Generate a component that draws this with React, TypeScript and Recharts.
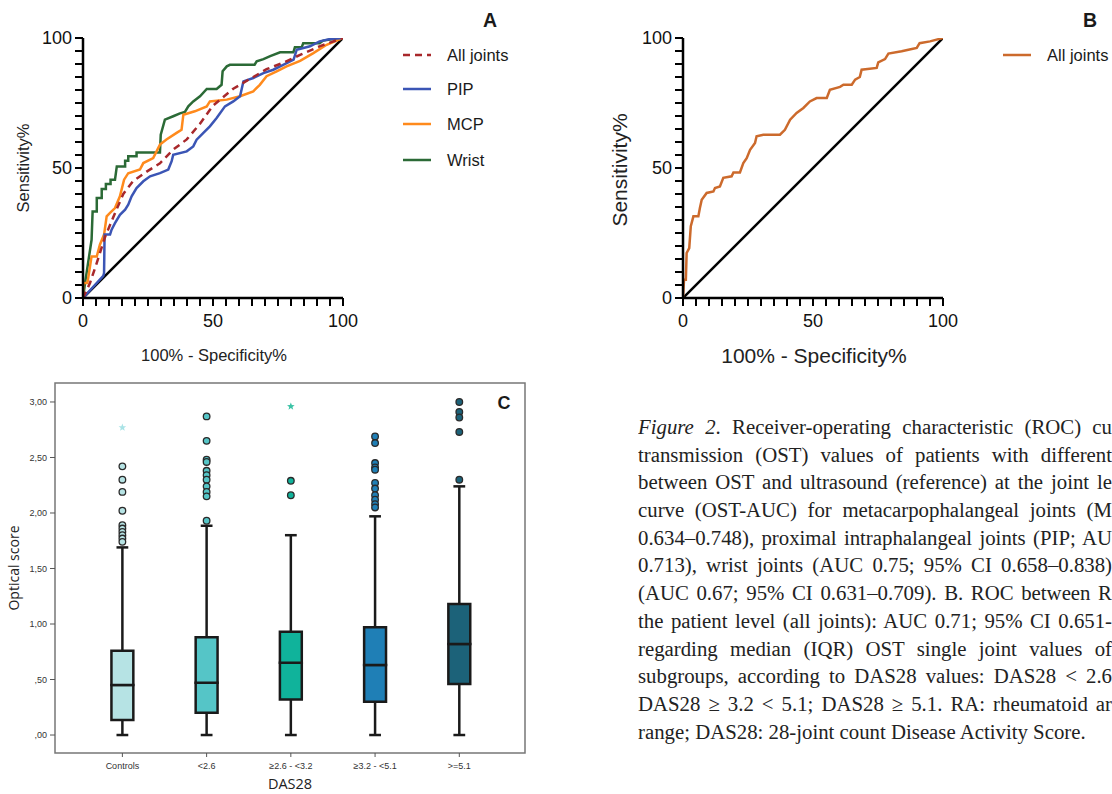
import React from "react";
import { LineChart, Line, XAxis, YAxis, ScatterChart, Scatter, ReferenceArea, ReferenceLine } from "recharts";

// ---------- ROC data (x = 100% - specificity, y = sensitivity) ----------
const rocTicks = [0, 5, 10, 15, 20, 25, 30, 35, 40, 45, 50, 55, 60, 65, 70, 75, 80, 85, 90, 95, 100];
const diagonal = [[0, 0], [100, 100]];

const allJointsA = [
  [0, 0], [1.4, 3], [2.7, 5.8], [5.3, 13.5], [8.5, 23.5], [11.6, 31], [15.5, 40], [19.3, 45],
  [24.5, 48.6], [29.6, 51.8], [34.6, 57], [39.9, 61], [45, 67], [50, 74], [57.8, 80.5],
  [65.5, 85], [70.6, 88], [77, 90.5], [83.5, 93.5], [91, 96.8], [100, 100],
];
const pipA = [
  [0, 0], [7.8, 8.5], [8.1, 9.6], [8.3, 24.4], [10.4, 24.4], [11, 26.3], [12.3, 28.8], [14.2, 32],
  [16.2, 34], [17.4, 35.9], [18.7, 39.1], [20.6, 42.3], [23.2, 44.9], [25.8, 46.8], [29.6, 48],
  [32.8, 49.4], [34.1, 52.6], [34.7, 55.1], [39.9, 56.4], [42.4, 58.3], [43.7, 60.9], [46.3, 63.5],
  [48.8, 66], [51.4, 69.2], [54.6, 73.7], [57.8, 75.6], [60.4, 77.6], [61.7, 83.3], [65.5, 84.6],
  [69.4, 86.5], [73.2, 87.8], [77, 89.7], [81, 91.7], [82.2, 95.5], [87.3, 96.8], [91, 98.7],
  [95, 99.6], [100, 100],
];
const mcpA = [
  [0, 0], [0.1, 5.8], [1.7, 5.8], [3.3, 16], [5.3, 16], [6.5, 20.5], [8.1, 24.4], [9.1, 31.4],
  [10.4, 32.7], [12.3, 34.6], [14.2, 39.1], [15.8, 45.5], [17.4, 48], [21.9, 49.4], [23.2, 51.9],
  [27, 53.8], [29.6, 59], [32.1, 61], [36, 63.5], [37.9, 64.7], [38.6, 70.5], [43, 71.8],
  [47.6, 73.7], [48.8, 75.6], [55.3, 76.3], [60.4, 77.6], [65.5, 79.5], [68, 82], [70.6, 85.3],
  [74.5, 87.2], [78.3, 89.1], [83.5, 91.2], [88.6, 94.2], [93.7, 97.4], [100, 100],
];
const wristA = [
  [0, 0], [0.8, 5.8], [3.3, 22.4], [3.7, 33.3], [5.3, 33.3], [5.3, 38.5], [7.2, 38.5], [7.2, 41.9],
  [8.8, 41.9], [8.8, 43.8], [10.6, 43.8], [10.6, 45.5], [12.3, 45.5], [13, 50.6], [16.2, 50.6],
  [16.2, 52.8], [17.4, 52.8], [17.4, 54.5], [20.6, 54.5], [20.6, 56], [29.6, 56], [29.9, 62.8],
  [31.5, 68.6], [34.7, 69.9], [37.3, 71], [39.2, 71.6], [40.5, 73.7], [42.4, 75.6], [45, 77.6],
  [47.6, 80.4], [51.4, 80.4], [53.3, 82], [53.7, 87.2], [55.3, 89.1], [56.5, 89.7], [66, 89.7],
  [66.8, 91], [69.4, 91.9], [72, 93], [75.8, 94.5], [80.9, 94.5], [81.5, 96.4], [84.1, 96.4],
  [84.7, 98], [91, 98], [92.4, 99], [96.3, 99.6], [100, 100],
];
const allJointsB = [
  [0, 0], [0.4, 7], [1.1, 7], [1.4, 17.3], [2.4, 19.2], [3, 27.6], [4, 31.4], [5.9, 31.4],
  [6.5, 34.6], [7.2, 37.8], [9.1, 40.4], [11.7, 41], [12.3, 42.3], [14.2, 42.9], [15.5, 46.2],
  [18.7, 46.8], [19.4, 48.3], [21.9, 48.3], [23.2, 51.9], [24.5, 53.8], [25.8, 57], [27.7, 59.6],
  [28.3, 62.2], [30.9, 62.8], [37.3, 62.8], [39.2, 64.7], [41.2, 68.6], [43.7, 71.2], [46.3, 73.1],
  [48.8, 75.6], [51.4, 76.9], [55.3, 76.9], [56.5, 80.1], [60.4, 81.2], [61.7, 82], [64.9, 82],
  [66.2, 84], [68, 85], [68.7, 87.8], [74.5, 88.5], [75.1, 90.6], [77.7, 91.9], [79, 94],
  [84.1, 94.9], [86.7, 95.5], [89.9, 96.2], [91, 98], [95, 98.7], [100, 100],
];

const seriesA = [
  { name: "All joints", pts: allJointsA, color: "#a8282b", dash: "7 5" },
  { name: "PIP", pts: pipA, color: "#3b55b5", dash: undefined },
  { name: "MCP", pts: mcpA, color: "#ff8a1c", dash: undefined },
  { name: "Wrist", pts: wristA, color: "#2b6a36", dash: undefined },
];
const drawOrderA = ["Wrist", "MCP", "PIP", "All joints"];
const colorB = "#cc6a2c";

// ---------- Box plot data (optical score by DAS28 group) ----------
const dasCats = ["Controls", "<2.6", "≥2.6 - <3.2", "≥3.2 - <5.1", ">=5.1"];
const boxLow = [0, 0, 0, 0, 0];
const boxQ1 = [0.135, 0.2, 0.32, 0.3, 0.46];
const boxMed = [0.45, 0.47, 0.65, 0.63, 0.82];
const boxQ3 = [0.76, 0.88, 0.93, 0.97, 1.18];
const boxHigh = [1.69, 1.885, 1.8, 1.97, 2.24];
const boxFill = ["#b6e3e4", "#55c5c7", "#10b39b", "#1f7fb6", "#1c6279"];
const outliers = [
  [2.42, 2.3, 2.19, 2.02, 1.89, 1.86, 1.83, 1.8, 1.77, 1.74],
  [2.87, 2.65, 2.48, 2.46, 2.38, 2.34, 2.3, 2.24, 2.19, 2.15, 1.93],
  [2.29, 2.16],
  [2.69, 2.63, 2.45, 2.41, 2.39, 2.27, 2.22, 2.16, 2.12, 2.08, 2.05],
  [3.0, 2.91, 2.86, 2.73, 2.3],
];
const extremes = [[2.77], [], [2.96], [], []];
const scoreTicks = [0, 0.5, 1, 1.5, 2, 2.5, 3];

// caption as it shows in the figure (lines run off the right edge)
const captionLines = [
  "Receiver-operating characteristic (ROC) cu",
  "transmission (OST) values of patients with different",
  "between OST and ultrasound (reference) at the joint le",
  "curve (OST-AUC) for metacarpophalangeal joints (M",
  "0.634–0.748), proximal intraphalangeal joints (PIP; AU",
  "0.713), wrist joints (AUC 0.75; 95% CI 0.658–0.838)",
  "(AUC 0.67; 95% CI 0.631–0.709). B. ROC between R",
  "the patient level (all joints): AUC 0.71; 95% CI 0.651-",
  "regarding median (IQR) OST single joint values of",
  "subgroups, according to DAS28 values: DAS28 < 2.6",
  "DAS28 ≥ 3.2 < 5.1; DAS28 ≥ 5.1. RA: rheumatoid ar",
  "range; DAS28: 28-joint count Disease Activity Score.",
];

const sans = "'Liberation Sans', Arial, sans-serif";
const toXY = (pts: number[][]) => pts.map(([x, y]) => ({ x, y }));
const rocFmt = (v: number) => (v % 50 === 0 ? String(v) : "");
const commaFmt = (v: number) => {
  const s = v.toFixed(2).replace(".", ",");
  return s.startsWith("0") ? s.slice(1) : s;
};

const Centered = ({ x, y, size, children, weight = 400, rotate = false, family = sans, color = "#1a1a1a" }: any) => (
  <div
    style={{
      position: "absolute", left: x, top: y, fontSize: size, fontWeight: weight, fontFamily: family, color,
      whiteSpace: "nowrap", lineHeight: 1.15,
      transform: `translate(-50%, -50%)${rotate ? " rotate(-90deg)" : ""}`,
    }}
  >
    {children}
  </div>
);

const LegendRow = ({ x, y, color, dash, label, size }: any) => (
  <div style={{ position: "absolute", left: x, top: y - 12, height: 24, display: "flex", alignItems: "center" }}>
    <svg width={30} height={6} style={{ marginRight: 15 }}>
      <line x1={1} y1={3} x2={29} y2={3} stroke={color} strokeWidth={2.5} strokeDasharray={dash} />
    </svg>
    <span style={{ fontSize: size, fontFamily: sans, color: "#1a1a1a" }}>{label}</span>
  </div>
);

const axisStyle = { stroke: "#000", strokeWidth: 2.5 };
const tickStyle = { fontSize: 18, fill: "#111", fontFamily: sans };

function RocChart({ children }: any) {
  return (
    <LineChart width={520} height={380} margin={{ top: 38, right: 177, bottom: 52, left: 23 }}>
      <XAxis type="number" dataKey="x" domain={[0, 100]} ticks={rocTicks} interval={0} tickFormatter={rocFmt}
        axisLine={axisStyle} tickLine={{ stroke: "#000", strokeWidth: 2 }} tickSize={8} tickMargin={8}
        tick={tickStyle} height={30} allowDataOverflow />
      <YAxis type="number" dataKey="y" domain={[0, 100]} ticks={rocTicks} interval={0} tickFormatter={rocFmt}
        axisLine={axisStyle} tickLine={{ stroke: "#000", strokeWidth: 2 }} tickSize={8} tickMargin={3}
        tick={tickStyle} width={60} allowDataOverflow />
      <Line data={toXY(diagonal)} dataKey="y" stroke="#000" strokeWidth={2.5} dot={false} isAnimationActive={false} />
      {children}
    </LineChart>
  );
}

const Dot = (color: string) => (p: any) => (
  <circle cx={p.cx} cy={p.cy} r={3.3} fill={color} stroke="#2a2a2a" strokeWidth={1.3} />
);
const Star = (color: string) => (p: any) => {
  const pts: string[] = [];
  for (let k = 0; k < 10; k++) {
    const r = k % 2 === 0 ? 4 : 1.7;
    const a = -Math.PI / 2 + (k * Math.PI) / 5;
    pts.push(`${p.cx + r * Math.cos(a)},${p.cy + r * Math.sin(a)}`);
  }
  return <polygon points={pts.join(" ")} fill={color} />;
};

function BoxChart() {
  const bw = 0.13;
  const cw = 0.07;
  const line = { stroke: "#1a1a1a", strokeWidth: 2.5 };
  return (
    <ScatterChart width={560} height={414} margin={{ top: 3, right: 35, bottom: 11, left: 5 }}>
      <XAxis type="number" dataKey="x" domain={[-0.8, 4.78]} ticks={[0, 1, 2, 3, 4]} interval={0}
        tickFormatter={(i: number) => dasCats[i]} axisLine={false} tickLine={{ stroke: "#555" }}
        tickSize={4} tickMargin={6} tick={{ fontSize: 9, fill: "#333", fontFamily: sans }} height={30} allowDataOverflow />
      <YAxis type="number" dataKey="y" domain={[-0.162, 3.171]} ticks={scoreTicks} interval={0}
        tickFormatter={commaFmt} axisLine={false} tickLine={{ stroke: "#555" }} tickSize={5} tickMargin={3}
        tick={{ fontSize: 9, fill: "#333", fontFamily: sans }} width={50} allowDataOverflow />
      <ReferenceArea x1={-0.8} x2={4.78} y1={-0.162} y2={3.171} fill="#fff" fillOpacity={0} stroke="#777" strokeWidth={1.5} />
      {dasCats.map((c, i) => (
        <React.Fragment key={c}>
          <ReferenceLine segment={[{ x: i, y: boxQ3[i] }, { x: i, y: boxHigh[i] }]} {...line} />
          <ReferenceLine segment={[{ x: i, y: boxLow[i] }, { x: i, y: boxQ1[i] }]} {...line} />
          <ReferenceLine segment={[{ x: i - cw, y: boxHigh[i] }, { x: i + cw, y: boxHigh[i] }]} {...line} />
          <ReferenceLine segment={[{ x: i - cw, y: boxLow[i] }, { x: i + cw, y: boxLow[i] }]} {...line} />
          <ReferenceArea x1={i - bw} x2={i + bw} y1={boxQ1[i]} y2={boxMed[i]} fill={boxFill[i]} fillOpacity={1} {...line} />
          <ReferenceArea x1={i - bw} x2={i + bw} y1={boxMed[i]} y2={boxQ3[i]} fill={boxFill[i]} fillOpacity={1} {...line} />
        </React.Fragment>
      ))}
      {dasCats.map((c, i) => (
        <Scatter key={"o" + c} data={outliers[i].map((y) => ({ x: i, y }))} dataKey="y"
          shape={Dot(boxFill[i])} isAnimationActive={false} />
      ))}
      {dasCats.map((c, i) => (
        <Scatter key={"e" + c} data={extremes[i].map((y) => ({ x: i, y }))} dataKey="y"
          shape={Star(i === 0 ? "#a9e3e6" : "#3cc3a6")} isAnimationActive={false} />
      ))}
    </ScatterChart>
  );
}

export default function App() {
  const byName = (n: string) => seriesA.find((s) => s.name === n)!;
  return (
    <div style={{ position: "absolute", left: 0, top: 0, width: 1112, height: 794, overflow: "hidden", background: "#fff", fontFamily: sans }}>
      {/* Panel A */}
      <div style={{ position: "absolute", left: 0, top: 0 }}>
        <RocChart>
          {drawOrderA.map((n) => {
            const s = byName(n);
            return (
              <Line key={n} data={toXY(s.pts)} dataKey="y" name={n} stroke={s.color} strokeWidth={2.5}
                strokeDasharray={s.dash} dot={false} isAnimationActive={false} />
            );
          })}
        </RocChart>
      </div>
      {seriesA.map((s, k) => (
        <LegendRow key={s.name} x={402} y={[55, 89, 124, 160][k]} color={s.color} dash={s.dash} label={s.name} size={16.5} />
      ))}
      <Centered x={490} y={20} size={19.5} weight={700}>A</Centered>
      <Centered x={23} y={168} size={16.5} rotate color="#222">Sensitivity%</Centered>
      <Centered x={214} y={355} size={16.5} color="#222">100% - Specificity%</Centered>

      {/* Panel B */}
      <div style={{ position: "absolute", left: 600, top: 0 }}>
        <RocChart>
          <Line data={toXY(allJointsB)} dataKey="y" name="All joints" stroke={colorB} strokeWidth={2.5} dot={false} isAnimationActive={false} />
        </RocChart>
      </div>
      <LegendRow x={1002} y={55} color={colorB} label="All joints" size={16.5} />
      <Centered x={1090} y={20} size={19.5} weight={700}>B</Centered>
      <Centered x={620} y={170} size={21} rotate color="#222">Sensitivity%</Centered>
      <Centered x={814} y={356} size={21} color="#222">100% - Specificity%</Centered>

      {/* Panel C */}
      <div style={{ position: "absolute", left: 0, top: 380 }}>
        <BoxChart />
      </div>
      <Centered x={504} y={403} size={18} weight={700}>C</Centered>
      <Centered x={14} y={568} size={14} rotate family="'Open Sans', sans-serif" color="#222">Optical score</Centered>
      <Centered x={290} y={784} size={14.5} family="'Open Sans', sans-serif" color="#222">DAS28</Centered>

      {/* Caption */}
      <div style={{ position: "absolute", left: 638, top: 413, width: 474, fontFamily: "'Liberation Serif', 'Times New Roman', serif", fontSize: 20.8, lineHeight: "27.7px", color: "#222" }}>
        {captionLines.map((t, k) => (
          <div key={k} style={{ textAlign: "justify", textAlignLast: k === captionLines.length - 1 ? "left" : "justify", height: 27.7, overflow: "hidden" }}>
            {k === 0 ? (<><i>Figure 2</i>. {t}</>) : t}
          </div>
        ))}
      </div>
    </div>
  );
}
